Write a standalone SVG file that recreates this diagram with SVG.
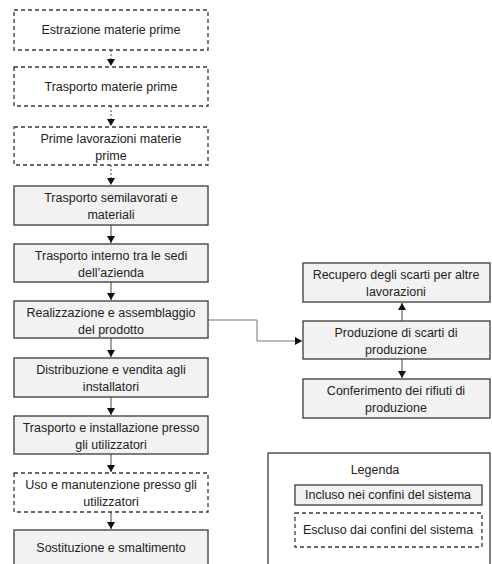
<svg xmlns="http://www.w3.org/2000/svg" width="492" height="564" viewBox="0 0 492 564">
<defs>
<style>
.inc{fill:#f2f2f2;stroke:#3a3a3a;stroke-width:1.3}
.exc{fill:#ffffff;stroke:#3a3a3a;stroke-width:1.3;stroke-dasharray:4 3}
text{font-family:"Liberation Sans",Arial,sans-serif;font-size:12.5px;fill:#222;text-anchor:middle}
.c{fill:none;stroke:#444;stroke-width:1}
.d{stroke-dasharray:2 2}
</style>
<marker id="ah" markerWidth="8" markerHeight="8" refX="7" refY="4" orient="auto" markerUnits="userSpaceOnUse">
<path d="M0,0 L7,4 L0,8 Z" fill="#111"/>
</marker>
</defs>
<rect width="492" height="564" fill="#fff"/>
<g id="connectors">
<line class="c d" x1="111" y1="50" x2="111" y2="66" marker-end="url(#ah)"/>
<line class="c d" x1="111" y1="106" x2="111" y2="126" marker-end="url(#ah)"/>
<line class="c d" x1="111" y1="165" x2="111" y2="185" marker-end="url(#ah)"/>
<line class="c" x1="111" y1="225" x2="111" y2="243" marker-end="url(#ah)"/>
<line class="c" x1="111" y1="282" x2="111" y2="300" marker-end="url(#ah)"/>
<line class="c" x1="111" y1="338" x2="111" y2="357" marker-end="url(#ah)"/>
<line class="c" x1="111" y1="397" x2="111" y2="415" marker-end="url(#ah)"/>
<line class="c" x1="111" y1="454" x2="111" y2="472" marker-end="url(#ah)"/>
<line class="c" x1="111" y1="512" x2="111" y2="529" marker-end="url(#ah)"/>
<polyline class="c" style="stroke:#777" points="208,320 257,320 257,341 302,341" marker-end="url(#ah)"/>
<line class="c" x1="402" y1="321" x2="402" y2="303" marker-end="url(#ah)"/>
<line class="c" x1="402" y1="359" x2="402" y2="378" marker-end="url(#ah)"/>
</g>
<g id="n1"><rect class="exc" x="14" y="10" width="194" height="40"/><text x="111" y="34">Estrazione materie prime</text></g>
<g id="n2"><rect class="exc" x="14" y="67" width="194" height="39"/><text x="111" y="91">Trasporto materie prime</text></g>
<g id="n3"><rect class="exc" x="14" y="127" width="194" height="38"/><text x="111" y="143">Prime lavorazioni materie</text><text x="111" y="160">prime</text></g>
<g id="n4"><rect class="inc" x="14" y="186" width="194" height="39"/><text x="111" y="202">Trasporto semilavorati e</text><text x="111" y="219">materiali</text></g>
<g id="n5"><rect class="inc" x="14" y="244" width="194" height="38"/><text x="111" y="260">Trasporto interno tra le sedi</text><text x="111" y="277">dell’azienda</text></g>
<g id="n6"><rect class="inc" x="14" y="301" width="194" height="37"/><text x="111" y="317">Realizzazione e assemblaggio</text><text x="111" y="334">del prodotto</text></g>
<g id="n7"><rect class="inc" x="14" y="358" width="194" height="39"/><text x="111" y="374">Distribuzione e vendita agli</text><text x="111" y="391">installatori</text></g>
<g id="n8"><rect class="inc" x="14" y="416" width="194" height="38"/><text x="111" y="432">Trasporto e installazione presso</text><text x="111" y="449">gli utilizzatori</text></g>
<g id="n9"><rect class="exc" x="14" y="473" width="194" height="39"/><text x="111" y="489">Uso e manutenzione presso gli</text><text x="111" y="506">utilizzatori</text></g>
<g id="n10"><rect class="inc" x="14" y="530" width="194" height="40"/><text x="111" y="552">Sostituzione e smaltimento</text></g>
<g id="r1"><rect class="inc" x="303" y="263" width="187" height="39"/><text x="396" y="279">Recupero degli scarti per altre</text><text x="396" y="296">lavorazioni</text></g>
<g id="r2"><rect class="inc" x="303" y="321" width="187" height="38"/><text x="396" y="337">Produzione di scarti di</text><text x="396" y="354">produzione</text></g>
<g id="r3"><rect class="inc" x="303" y="379" width="187" height="39"/><text x="396" y="395">Conferimento dei rifiuti di</text><text x="396" y="412">produzione</text></g>
<g id="legend">
<rect x="268" y="453" width="222" height="120" fill="#fff" stroke="#3a3a3a" stroke-width="1.3"/>
<text x="375" y="474">Legenda</text>
<rect class="inc" x="295" y="485" width="187" height="20"/><text x="388" y="499">Incluso nei confini del sistema</text>
<rect class="exc" x="295" y="513" width="187" height="34"/><text x="388" y="534">Escluso dai confini del sistema</text>
</g>
</svg>
